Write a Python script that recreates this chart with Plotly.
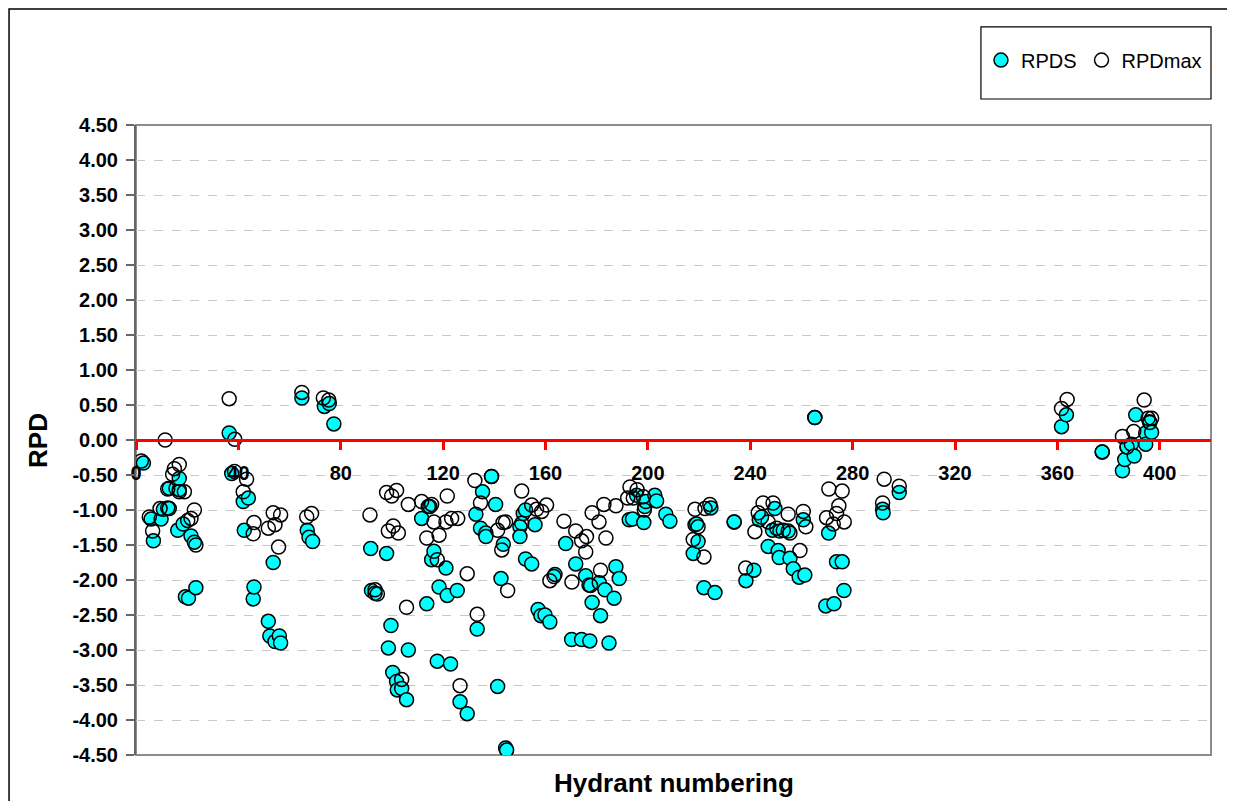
import plotly.graph_objects as go

# ---- data ----
rpds_x = [2.9, 5.9, 6.8, 9.8, 10.7, 13.0, 13.0, 15.6, 16.9, 16.9, 16.3, 18.4, 21.5, 22.8, 19.3, 20.5, 23.4,
          36.4, 37.4, 41.9, 43.9, 42.3, 45.8, 46.1, 51.7, 52.3, 53.6, 54.3, 56.0, 56.5,
          64.8, 66.9, 67.6, 69.0, 73.6, 75.5, 77.3,
          91.7, 92.0, 93.4, 97.9, 98.6, 99.6, 100.3, 101.8, 102.1, 103.8, 105.7, 106.4,
          111.6, 113.6, 114.8, 115.5, 116.4, 117.7, 118.4, 121.1, 121.6, 122.9, 125.5, 126.6, 129.4,
          132.8, 133.3, 134.6, 135.4, 136.7, 136.7, 138.9, 140.5, 141.3, 142.6, 143.5, 144.4, 144.8,
          150.0, 150.0, 151.3, 152.2, 152.2, 154.6, 155.9, 157.1, 158.2, 159.8, 161.7, 163.7, 167.9,
          170.2, 171.8, 174.1, 175.7, 177.0, 177.3, 178.2, 181.0, 181.5, 183.2, 184.8, 186.8, 187.5, 188.8,
          192.7, 194.0, 195.6, 198.4, 198.8, 199.2, 202.7, 203.4, 207.0, 208.6,
          217.7, 218.4, 219.0, 219.6, 221.9, 224.6, 226.2, 233.7, 238.3,
          241.4, 243.5, 244.4, 247.0, 248.7, 249.6, 250.9, 251.3, 251.6, 254.8, 255.5, 256.8, 259.1,
          260.7, 261.3, 265.2, 269.5, 270.6, 272.7, 273.7, 275.9, 276.6, 291.7, 291.9, 298.2,
          361.6, 363.5, 377.5, 385.4, 386.3, 387.2, 388.9, 390.0, 390.6, 394.5, 394.5, 396.0, 396.8]
rpds_y = [-0.33, -1.13, -1.44, -1.13, -0.99, -0.98, -0.69, -0.69, -0.71, -0.55, -1.29, -1.20, -1.37, -1.46, -2.24, -2.26, -2.11,
          0.10, -0.48, -0.88, -0.83, -1.29, -2.27, -2.10, -2.59, -2.80, -1.75, -2.88, -2.80, -2.90,
          0.60, -1.29, -1.39, -1.45, 0.48, 0.52, 0.23,
          -1.55, -2.15, -2.19, -1.62, -2.97, -2.65, -3.32, -3.45, -3.57, -3.55, -3.71, -3.00,
          -1.12, -2.34, -0.95, -1.71, -1.59, -3.16, -2.10, -1.83, -2.22, -3.20, -2.15, -3.74, -3.91,
          -1.06, -2.70, -1.26, -0.74, -1.33, -1.38, -0.52, -0.92, -3.52, -1.98, -1.49, -4.40, -4.43,
          -1.24, -1.38, -1.05, -1.00, -1.70, -1.77, -1.21, -2.42, -2.51, -2.50, -2.60, -1.92, -1.48,
          -2.85, -1.77, -2.85, -1.94, -2.07, -2.87, -2.32, -2.04, -2.51, -2.14, -2.90, -2.26, -1.81, -1.98,
          -1.14, -1.13, -0.79, -1.18, -0.95, -0.88, -0.79, -0.87, -1.06, -1.16,
          -1.62, -1.21, -1.20, -1.45, -2.11, -0.97, -2.18, -1.17, -2.01,
          -1.86, -1.14, -1.10, -1.52, -1.29, -0.98, -1.58, -1.68, -1.30, -1.30, -1.69, -1.84, -1.96,
          -1.14, -1.93, 0.32, -2.37, -1.33, -2.34, -1.74, -1.74, -2.15, -0.99, -1.04, -0.75,
          0.19, 0.36, -0.17, -0.44, -0.28, -0.10, -0.06, -0.23, 0.36, 0.10, -0.06, 0.26, 0.11]

rpdmax_x = [2.1, 5.2, 6.5, 9.4, 11.4, 12.4, 12.4, 14.3, 15.0, 16.9, 16.9, 18.9, 20.2, 21.5, 22.8, 23.4,
            36.4, 38.5, 38.6, 41.9, 43.2, 45.8, 46.1, 51.7, 53.6, 54.3, 55.7, 56.5,
            64.8, 66.7, 68.6, 73.2, 75.3,
            91.4, 93.4, 94.3, 97.9, 98.6, 99.9, 100.5, 101.8, 102.5, 103.8, 105.7, 106.4,
            111.6, 113.6, 114.2, 115.5, 116.4, 117.7, 118.4, 121.1, 121.6, 123.3, 125.7, 126.6, 129.4,
            132.4, 133.3, 134.6, 138.9, 141.3, 142.9, 143.4, 144.4, 145.2,
            150.7, 150.7, 154.6, 156.5, 158.5, 160.4, 161.7, 163.3, 167.2,
            170.3, 171.8, 174.1, 175.7, 176.0, 177.6, 178.2, 180.9, 181.5, 182.8, 183.6, 187.5,
            192.1, 193.0, 194.3, 195.8, 198.2, 198.6,
            217.7, 218.4, 219.6, 221.9, 222.3, 224.2, 233.7, 238.2,
            241.8, 243.1, 245.0, 247.0, 248.9, 250.3, 252.9, 254.8, 255.5, 259.4,
            260.7, 261.7, 265.2, 269.8, 270.7, 272.4, 273.7, 274.6, 275.9, 276.7,
            291.7, 292.3, 298.2,
            361.6, 363.8, 377.5, 385.4, 387.2, 389.8, 393.9, 395.4, 396.1, 396.8]
rpdmax_y = [-0.30, -1.10, -1.30, -0.98, 0.00, -0.97, -0.70, -0.49, -0.41, -0.35, -0.74, -0.74, -1.15, -1.12, -1.00, -1.50,
            0.59, -0.45, 0.01, -0.74, -0.56, -1.34, -1.18, -1.26, -1.04, -1.21, -1.53, -1.07,
            0.68, -1.10, -1.05, 0.60, 0.57,
            -1.07, -2.14, -2.20, -0.75, -1.30, -0.80, -1.23, -0.72, -1.33, -3.42, -2.39, -0.92,
            -0.88, -1.40, -0.95, -0.92, -1.17, -1.71, -1.36, -1.17, -0.80, -1.12, -1.12, -3.51, -1.91,
            -0.58, -2.49, -0.90, -0.52, -1.29, -1.57, -1.18, -1.17, -2.15,
            -0.73, -1.19, -0.93, -0.99, -1.02, -0.93, -2.01, -1.95, -1.16,
            -2.03, -1.30, -1.44, -1.60, -1.38, -2.08, -1.04, -1.17, -1.86, -0.92, -1.40, -0.94,
            -0.83, -0.67, -0.83, -0.71, -0.81, -1.00,
            -1.42, -0.99, -1.24, -1.67, -0.98, -0.92, -1.17, -1.83,
            -1.31, -1.04, -0.90, -1.17, -0.90, -1.26, -1.29, -1.06, -1.33, -1.58,
            -1.02, -1.24, 0.32, -1.11, -0.70, -1.20, -1.05, -0.94, -0.73, -1.17,
            -0.90, -0.56, -0.66,
            0.45, 0.58, -0.17, 0.05, -0.10, 0.12, 0.57, 0.31, 0.25, 0.31]

x_ticks = [0, 40, 80, 120, 160, 200, 240, 280, 320, 360, 400]
y_ticks = [-4.5, -4.0, -3.5, -3.0, -2.5, -2.0, -1.5, -1.0, -0.5, 0.0, 0.5, 1.0, 1.5, 2.0, 2.5, 3.0, 3.5, 4.0, 4.5]
y_tick_text = [f"{v:.2f}" for v in y_ticks]
x_tick_text = [str(v) for v in x_ticks]

FONT = "Liberation Sans, Arial, sans-serif"

fig = go.Figure()
fig.add_trace(go.Scatter(
    x=rpds_x, y=rpds_y, mode="markers", name="RPDS",
    marker=dict(symbol="circle", size=14, color="#00FFFF", line=dict(color="black", width=1.5)),
))
fig.add_trace(go.Scatter(
    x=rpdmax_x, y=rpdmax_y, mode="markers", name="RPDmax",
    marker=dict(symbol="circle", size=14, color="rgba(0,0,0,0)", line=dict(color="black", width=1.5)),
))

# the page body has an 8px margin, so the figure is 8px smaller and shifted
fig.update_layout(
    width=1227, height=793,
    margin=dict(l=128, r=24, t=117, b=46),
    paper_bgcolor="white", plot_bgcolor="white",
    font=dict(family=FONT, color="black"),
    showlegend=True,
    legend=dict(orientation="h", x=0.786, xanchor="left", y=1.103, yanchor="middle",
                bgcolor="rgba(0,0,0,0)", borderwidth=0,
                font=dict(family=FONT, size=20, color="black")),
    xaxis=dict(
        range=[0, 420], anchor="free", position=0.5,
        tickmode="array", tickvals=x_ticks, ticktext=x_tick_text,
        showline=True, linecolor="red", linewidth=3,
        ticks="outside", tickcolor="red", tickwidth=3, ticklen=8,
        ticklabelstandoff=6,
        tickfont=dict(family=FONT, size=20, color="black", weight="bold"),
        showgrid=False, zeroline=False,
    ),
    yaxis=dict(
        range=[-4.5, 4.5], domain=[0, 1],
        tickmode="array", tickvals=y_ticks, ticktext=y_tick_text,
        showline=True, linecolor="#666666", linewidth=2,
        ticks="outside", tickcolor="#666666", tickwidth=1.5, ticklen=8,
        ticklabelstandoff=4,
        tickfont=dict(family=FONT, size=20, color="black", weight="bold"),
        showgrid=True, gridcolor="#c8c8c8", gridwidth=1, griddash="9px,9px",
        zeroline=False,
    ),
    shapes=[
        # plot-area border (top, right, bottom)
        dict(type="rect", xref="paper", yref="paper", x0=0, x1=1, y0=0, y1=1,
             line=dict(color="#8c8c8c", width=2), fillcolor="rgba(0,0,0,0)", layer="below"),
        # outer chart frame: only the left and top edges are inside the picture
        dict(type="path", xref="paper", yref="paper",
             path="M -0.1181,-0.2 L -0.1181,1.1841 L 1.3,1.1841",
             line=dict(color="black", width=1.5), layer="above"),
        # legend box
        dict(type="rect", xref="paper", yref="paper", x0=0.786, x1=1.0, y0=1.0413, y1=1.1556,
             line=dict(color="black", width=1.2), fillcolor="rgba(0,0,0,0)", layer="above"),
    ],
    annotations=[
        dict(text="RPD", xref="paper", yref="paper", x=-0.0912, y=0.5, textangle=-90,
             showarrow=False, xanchor="center", yanchor="middle",
             font=dict(family=FONT, size=26, color="black", weight="bold")),
        dict(text="Hydrant numbering", xref="paper", yref="paper", x=0.5, y=-0.0444,
             showarrow=False, xanchor="center", yanchor="middle",
             font=dict(family=FONT, size=26, color="black", weight="bold")),
    ],
)

fig.write_html("out.html")
